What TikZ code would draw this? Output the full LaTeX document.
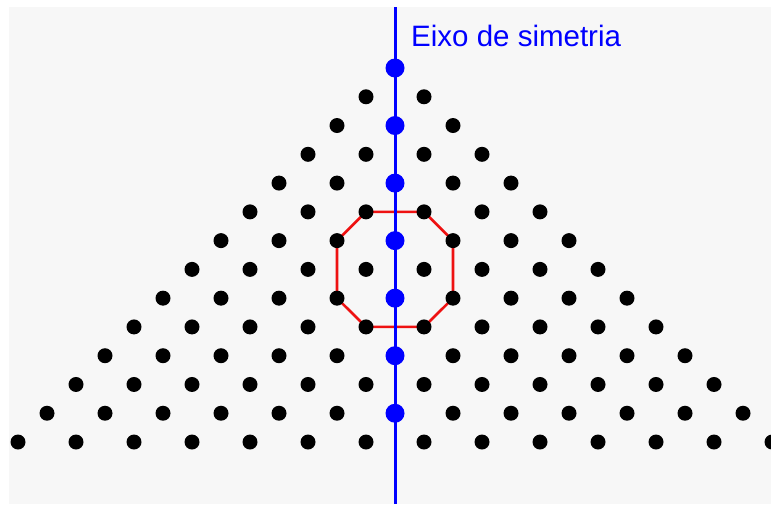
\documentclass[tikz,border=0pt]{standalone}
\usepackage{fontspec}
\setmainfont{Liberation Sans}
\definecolor{bggray}{HTML}{F7F7F7}
\definecolor{axisblue}{HTML}{0000FF}
\definecolor{octred}{HTML}{EE1111}
\pgfdeclarelayer{back}
\pgfsetlayers{back,main}
\tikzset{
  dot/.style={circle,fill=black,inner sep=0pt,minimum size=15pt},
  axisdot/.style={circle,fill=axisblue,inner sep=0pt,minimum size=19pt},
  axisline/.style={draw=axisblue,line width=3pt},
  octline/.style={draw=octred,line width=2.6pt,line join=round},
  label/.style={text=axisblue,font=\fontsize{29.5}{34}\selectfont,anchor=base west,inner sep=0pt}
}
\begin{document}
\begin{tikzpicture}[x=1pt,y=-1pt]
\useasboundingbox (0,0) rectangle (771,504);
\foreach \n in {0,...,13}{
  \foreach \j in {0,...,\n}{
    \pgfmathtruncatemacro{\k}{2*\j-\n}
    \pgfmathsetmacro{\xx}{395+29*\k}
    \pgfmathsetmacro{\yy}{68+28.77*\n}
    \ifnum\k=0
      \node[axisdot] (d-\n-\k) at (\xx,\yy) {};
    \else
      \node[dot] (d-\n-\k) at (\xx,\yy) {};
    \fi
  }
}
\coordinate (axtop) at (395,7);
\coordinate (axbot) at (395,504);
\node[label] (lbl) at (411,46.5) {Eixo de simetria};
\begin{pgfonlayer}{back}
  \fill[bggray] (9,7) rectangle (771,504);
  \draw[octline] (d-5-1.center) -- (d-6-2.center) -- (d-8-2.center) -- (d-9-1.center)
    -- (d-9--1.center) -- (d-8--2.center) -- (d-6--2.center) -- (d-5--1.center) -- cycle;
  \draw[axisline] (axtop) -- (axbot);
\end{pgfonlayer}
\end{tikzpicture}
\end{document}
